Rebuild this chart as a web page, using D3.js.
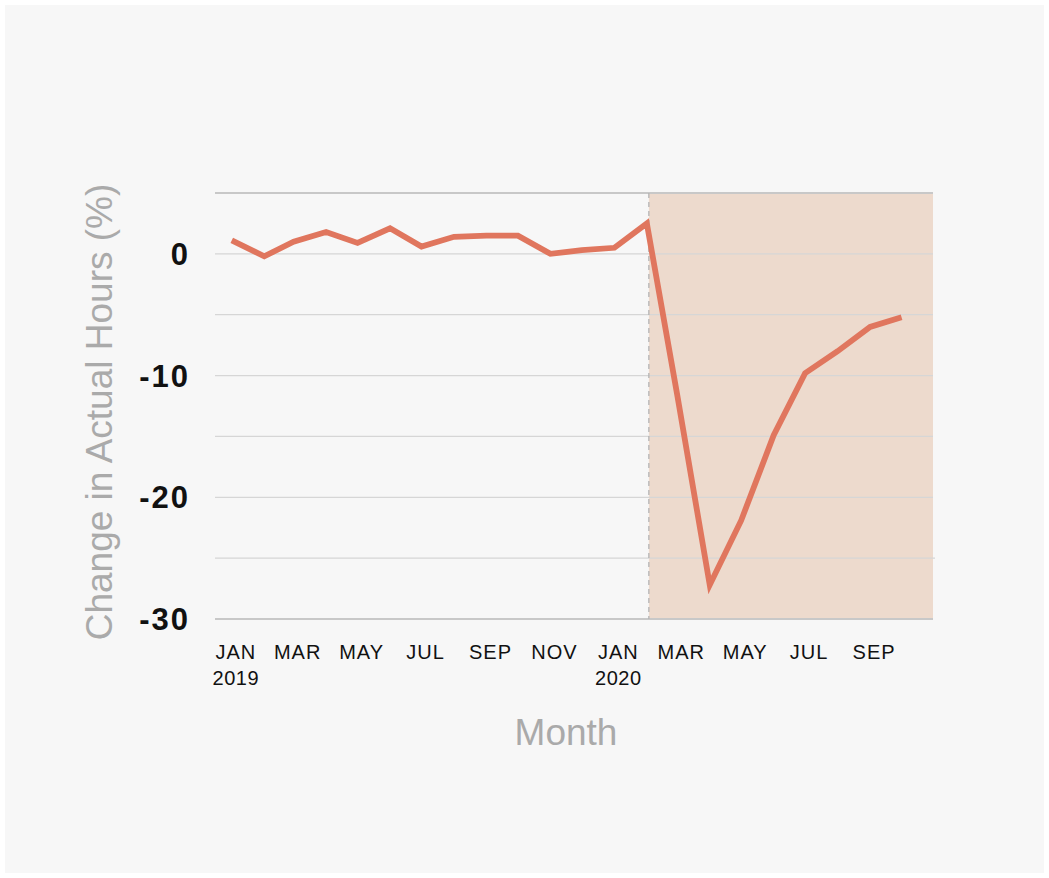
<!DOCTYPE html>
<html>
<head>
<meta charset="utf-8">
<script src="https://d3js.org/d3.v7.min.js"></script>
<style>
  body {
    margin: 0;
    background: #ffffff;
    font-family: "Liberation Sans", Arial, sans-serif;
  }
</style>
</head>
<body>
<div id="chart"></div>
<script>

// monthly values, Jan 2019 - Oct 2020
var months = ["2019-01","2019-02","2019-03","2019-04","2019-05","2019-06","2019-07","2019-08",
              "2019-09","2019-10","2019-11","2019-12","2020-01","2020-02","2020-03","2020-04",
              "2020-05","2020-06","2020-07","2020-08","2020-09","2020-10"];
var hoursChange = [1.1, -0.2, 1.0, 1.8, 0.9, 2.1, 0.6, 1.4,
                   1.5, 1.5, 0.0, 0.3, 0.5, 2.5, -11.6, -27.2,
                   -21.9, -14.9, -9.8, -8.0, -6.0, -5.2];

var yTicks = [0, -10, -20, -30];
var yGrid = [5, 0, -5, -10, -15, -20, -25, -30];
var xTickMonths = ["2019-01","2019-03","2019-05","2019-07","2019-09","2019-11",
                   "2020-01","2020-03","2020-05","2020-07","2020-09"];
var xTickNames = ["JAN","MAR","MAY","JUL","SEP","NOV","JAN","MAR","MAY","JUL","SEP"];
var xTickYears = ["2019","","","","","","2020","","","",""];
var shadeFrom = "2020-02";   // covid period shading starts here

var width = 1049, height = 878;
var parseMonth = d3.timeParse("%Y-%m");

var data = months.map(function(m, i) { return {date: parseMonth(m), value: hoursChange[i]}; });

var svg = d3.select("#chart")
  .append("svg")
    .attr("width", width)
    .attr("height", height);

// page panel
svg.append("rect")
    .attr("x", 5).attr("y", 5)
    .attr("width", width - 10).attr("height", height - 10)
    .attr("fill", "#f7f7f7");

var x = d3.scaleTime()
    .domain([new Date(2018, 11, 16), new Date(2020, 9, 31)])
    .range([215, 933]);

var y = d3.scaleLinear()
    .domain([-30, 5])
    .range([619, 193]);

// shaded region
var shadeX = x(parseMonth(shadeFrom)) + 2;
svg.append("rect")
    .attr("x", shadeX)
    .attr("y", y(5))
    .attr("width", x.range()[1] - shadeX)
    .attr("height", y(-30) - y(5))
    .attr("fill", "#eddacd");

// grid lines
svg.append("g")
  .selectAll("line")
  .data(yGrid)
  .enter()
  .append("line")
    .attr("x1", x.range()[0])
    .attr("x2", function(d) { return d == -25 ? x.range()[1] + 2 : x.range()[1]; })
    .attr("y1", function(d) { return y(d); })
    .attr("y2", function(d) { return y(d); })
    .attr("stroke", function(d) { return (d == 5 || d == -30) ? "#c8c8c8" : "#d6d6d6"; })
    .attr("stroke-width", function(d) { return (d == 5 || d == -30) ? 2 : 1.2; });

// dashed divider
svg.append("line")
    .attr("x1", shadeX).attr("x2", shadeX)
    .attr("y1", y(5)).attr("y2", y(-30))
    .attr("stroke", "#b4b4b4")
    .attr("stroke-width", 1.3)
    .attr("stroke-dasharray", "5,4");

// y tick labels
svg.append("g")
  .selectAll("text")
  .data(yTicks)
  .enter()
  .append("text")
    .attr("x", 190)
    .attr("y", function(d) { return y(d); })
    .attr("dy", "0.36em")
    .attr("text-anchor", "end")
    .attr("font-size", 31)
    .attr("letter-spacing", 2)
    .attr("font-weight", "bold")
    .attr("fill", "#111")
    .text(function(d) { return d; });

// x tick labels
var xt = svg.append("g")
  .selectAll("g")
  .data(xTickMonths)
  .enter()
  .append("g")
    .attr("transform", function(d) { return "translate(" + (x(parseMonth(d)) + 4) + ",0)"; });

xt.append("text")
    .attr("y", 659)
    .attr("text-anchor", "middle")
    .attr("font-size", 20)
    .attr("letter-spacing", 1)
    .attr("fill", "#111")
    .text(function(d, i) { return xTickNames[i]; });

xt.append("text")
    .attr("y", 685)
    .attr("text-anchor", "middle")
    .attr("font-size", 20)
    .attr("letter-spacing", 0.5)
    .attr("fill", "#111")
    .text(function(d, i) { return xTickYears[i]; });

// the line
var line = d3.line()
    .x(function(d) { return x(d.date); })
    .y(function(d) { return y(d.value); });

svg.append("path")
    .datum(data)
    .attr("d", line)
    .attr("fill", "none")
    .attr("stroke", "#e0765e")
    .attr("stroke-width", 5.8)
    .attr("stroke-linejoin", "miter");

// axis titles
svg.append("text")
    .attr("transform", "translate(112,412) rotate(-90)")
    .attr("text-anchor", "middle")
    .attr("font-size", 37)
    .attr("fill", "#aaaaaa")
    .text("Change in Actual Hours (%)");

svg.append("text")
    .attr("x", 566)
    .attr("y", 745)
    .attr("text-anchor", "middle")
    .attr("font-size", 37)
    .attr("fill", "#aaaaaa")
    .text("Month");

</script>
</body>
</html>
